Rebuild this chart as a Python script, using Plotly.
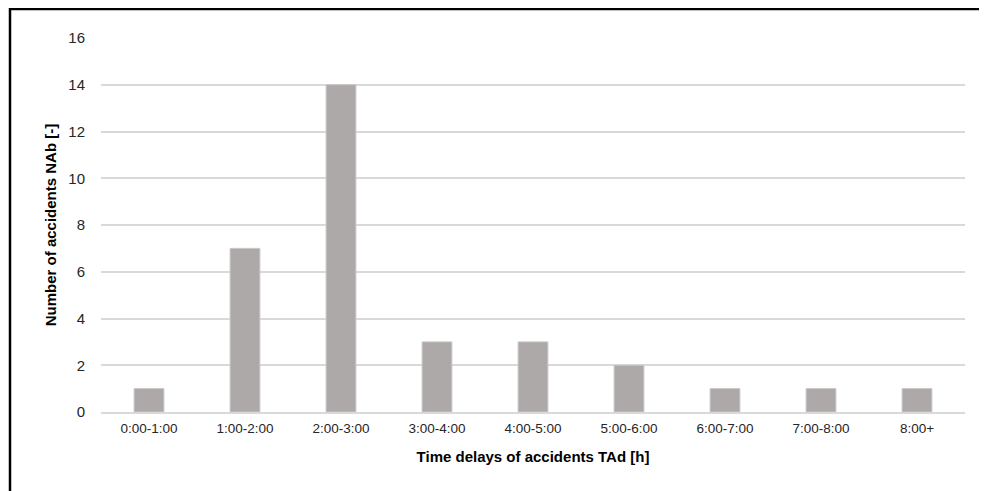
import plotly.graph_objects as go

categories = ["0:00-1:00", "1:00-2:00", "2:00-3:00", "3:00-4:00", "4:00-5:00",
              "5:00-6:00", "6:00-7:00", "7:00-8:00", "8:00+"]
accidents = [1, 7, 14, 3, 3, 2, 1, 1, 1]
y_ticks = [0, 2, 4, 6, 8, 10, 12, 14, 16]

fig = go.Figure()
fig.add_trace(go.Bar(
    x=categories, y=accidents,
    marker=dict(color="#ADA9A8", line=dict(color="#C8C5C4", width=1)),
    width=0.31,
))

# page has an 8px body margin, so the figure is sized to fit the viewport
W, H = 979, 483
ml, mr, mt, mb = 93, 22, 30, 79
pw, ph = W - ml - mr, H - mt - mb

def px_to_paper_x(px):
    return (px - ml) / pw

def px_to_paper_y(py):
    return (H - mb - py) / ph

tick_color = "#262626"

fig.update_layout(
    width=W, height=H,
    margin=dict(l=ml, r=mr, t=mt, b=mb),
    paper_bgcolor="white", plot_bgcolor="white",
    font=dict(family="Liberation Sans, Arial, sans-serif", size=13, color="#000000"),
    showlegend=False,
    xaxis=dict(
        showgrid=False, showline=True, linecolor="#D9D9D9", linewidth=1.5,
        ticks="outside", ticklen=3, tickcolor="rgba(0,0,0,0)",
        tickfont=dict(size=13.5, color=tick_color),
        title=dict(text="<b>Time delays of accidents TAd [h]</b>",
                   font=dict(size=15, color="#000000"), standoff=17),
    ),
    yaxis=dict(
        range=[0, 16], tickvals=y_ticks, showgrid=True, gridcolor="#D9D9D9", gridwidth=1.5,
        zeroline=False, showline=False,
        ticks="outside", ticklen=12, tickcolor="rgba(0,0,0,0)",
        tickfont=dict(size=15, color=tick_color),
        title=dict(text="<b>Number of accidents NAb [-]</b>",
                   font=dict(size=15, color="#000000"), standoff=8),
    ),
    shapes=[dict(
        type="rect", xref="paper", yref="paper",
        x0=px_to_paper_x(2), x1=px_to_paper_x(1000),
        y0=px_to_paper_y(520), y1=px_to_paper_y(1),
        line=dict(color="black", width=2.5), fillcolor="rgba(0,0,0,0)", layer="above",
    )],
)

fig.write_html("out.html")
